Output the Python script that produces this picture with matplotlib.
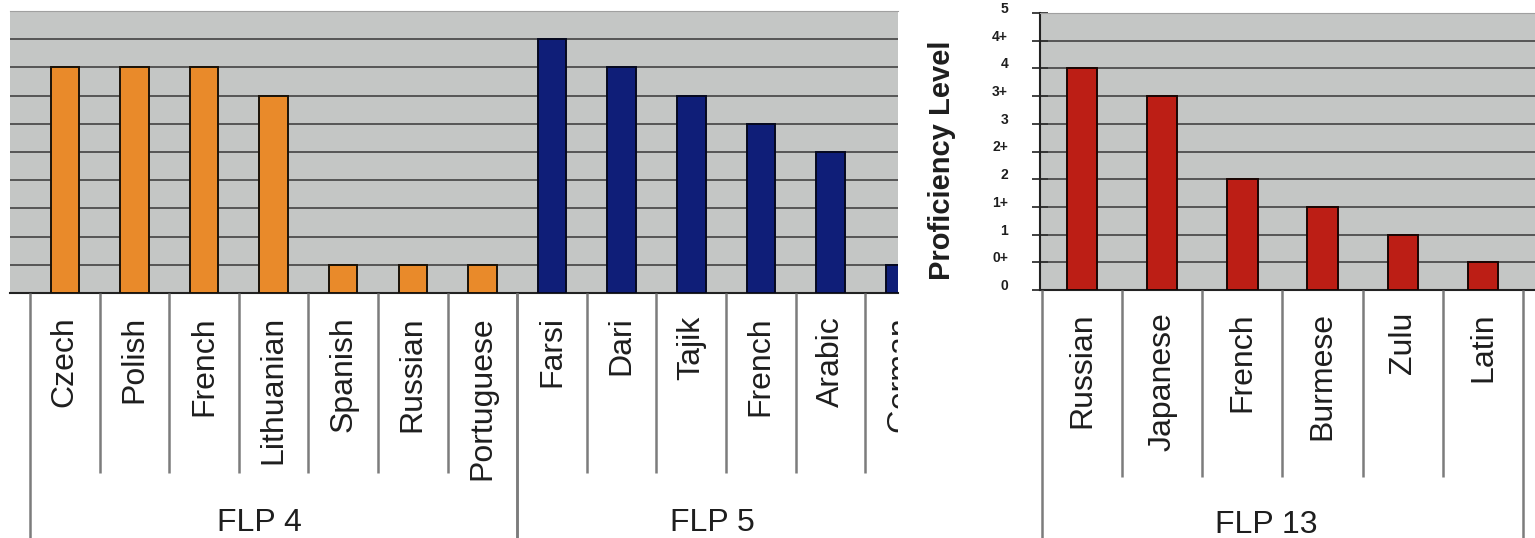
import matplotlib
matplotlib.use('Agg')
import matplotlib.pyplot as plt
from matplotlib.transforms import ScaledTranslation
import numpy as np

plt.rcParams['font.family'] = ['Liberation Sans', 'DejaVu Sans']

# ---------------- data ----------------
levels = ['0', '0+', '1', '1+', '2', '2+', '3', '3+', '4', '4+', '5']

flp4_langs = ['Czech', 'Polish', 'French', 'Lithuanian', 'Spanish', 'Russian', 'Portuguese']
flp4_vals = ['4', '4', '4', '3+', '0+', '0+', '0+']

flp5_langs = ['Farsi', 'Dari', 'Tajik', 'French', 'Arabic', 'German']
flp5_vals = ['4+', '4', '3+', '3', '2+', '0+']

flp13_langs = ['Russian', 'Japanese', 'French', 'Burmese', 'Zulu', 'Latin']
flp13_vals = ['4', '3+', '2', '1+', '1', '0+']

group_names_left = ['FLP 4', 'FLP 5']
group_names_right = ['FLP 13']

# ---------------- style ----------------
W, H, DPI = 1535, 538, 100
BG = '#C4C6C5'
GRID = '#4d4d4d'
DIV = '#7c7c7c'
TXT = '#1e1e1e'
C_ORANGE = '#E98A2A'
C_NAVY = '#0F1E78'
C_RED = '#BC1E15'

fig = plt.figure(figsize=(W / DPI, H / DPI), dpi=DPI)


def rect(x0, y0, x1, y1):
    return [x0 / W, 1 - y1 / H, (x1 - x0) / W, (y1 - y0) / H]


def to_num(vals):
    return [levels.index(v) for v in vals]


def style_main(ax):
    ax.set_facecolor(BG)
    ax.set_ylim(0, 10)
    ax.set_yticks(range(len(levels)))
    ax.yaxis.grid(True, color=GRID, lw=1.3)
    ax.set_axisbelow(True)
    ax.spines['top'].set_color('#a0a0a0')
    ax.spines['right'].set_visible(False)
    ax.spines['bottom'].set_color('#222222')
    ax.spines['bottom'].set_linewidth(1.5)
    ax.tick_params(axis='x', bottom=False, labelbottom=False)


def draw_labels(lax, groups, xlim, h, short_bottom, label_top, group_y):
    lax.set_xlim(*xlim)
    lax.set_ylim(0, h)
    lax.set_axis_off()
    start = 0
    for name, langs in groups:
        n = len(langs)
        pos = np.arange(start, start + n)
        # long dividers at group edges
        lax.vlines([start - 0.5, start + n - 0.5], 0, h, color=DIV, lw=1.8)
        # short dividers between categories
        if n > 1:
            lax.vlines(pos[1:] - 0.5, short_bottom, h, color=DIV, lw=1.8)
        for p, lab in zip(pos, langs):
            lax.text(p, label_top, lab, rotation=90, ha='center', va='top',
                     fontsize=23, color=TXT, clip_on=True)
        lax.text(pos.mean() - 0.2, group_y, name, ha='center', va='center',
                 fontsize=23, color=TXT, clip_on=True)
        start += n


# ---------------- left panel (FLP 4, FLP 5) ----------------
axL = fig.add_axes(rect(10, 11, 898, 293))
style_main(axL)
axL.spines['left'].set_visible(False)
axL.tick_params(axis='y', left=False, labelleft=False)

x4 = np.arange(len(flp4_langs))
x5 = np.arange(len(flp5_langs)) + len(flp4_langs)
axL.bar(x4, to_num(flp4_vals), width=0.41, color=C_ORANGE,
        edgecolor='#1a1208', linewidth=1.4, zorder=3)
axL.bar(x5, to_num(flp5_vals), width=0.41, color=C_NAVY,
        edgecolor='#05081f', linewidth=1.4, zorder=3)
xlimL = (-0.787, 11.97)
axL.set_xlim(*xlimL)

labL = fig.add_axes(rect(10, 293, 898, 538))
draw_labels(labL, [(group_names_left[0], flp4_langs), (group_names_left[1], flp5_langs)],
            xlimL, 245, 65, 222, 15)

# ---------------- right panel (FLP 13) ----------------
axR = fig.add_axes(rect(1040, 13, 1535, 290))
style_main(axR)
axR.spines['left'].set_color('#222222')
axR.spines['left'].set_linewidth(1.5)
axR.set_yticklabels(levels, fontsize=10, fontweight='bold', color=TXT)
axR.tick_params(axis='y', direction='inout', length=12, width=1.3,
                color='#333333', pad=17)
for t in axR.get_yticklabels():
    t.set_transform(t.get_transform() + ScaledTranslation(0, 4 / 72, fig.dpi_scale_trans))

x13 = np.arange(len(flp13_langs))
axR.bar(x13, to_num(flp13_vals), width=0.38, color=C_RED,
        edgecolor='#1a0503', linewidth=1.4, zorder=3)
xlimR = (-0.525, 5.65)
axR.set_xlim(*xlimR)

fig.text(942 / W, 1 - 160 / H, 'Proficiency Level', rotation=90, ha='center',
         va='center', fontsize=21, fontweight='bold', color=TXT)

labR = fig.add_axes(rect(1040, 290, 1535, 538))
draw_labels(labR, [(group_names_right[0], flp13_langs)], xlimR, 248, 61, 226, 13)

fig.savefig('out.png', dpi=DPI, facecolor='white')
